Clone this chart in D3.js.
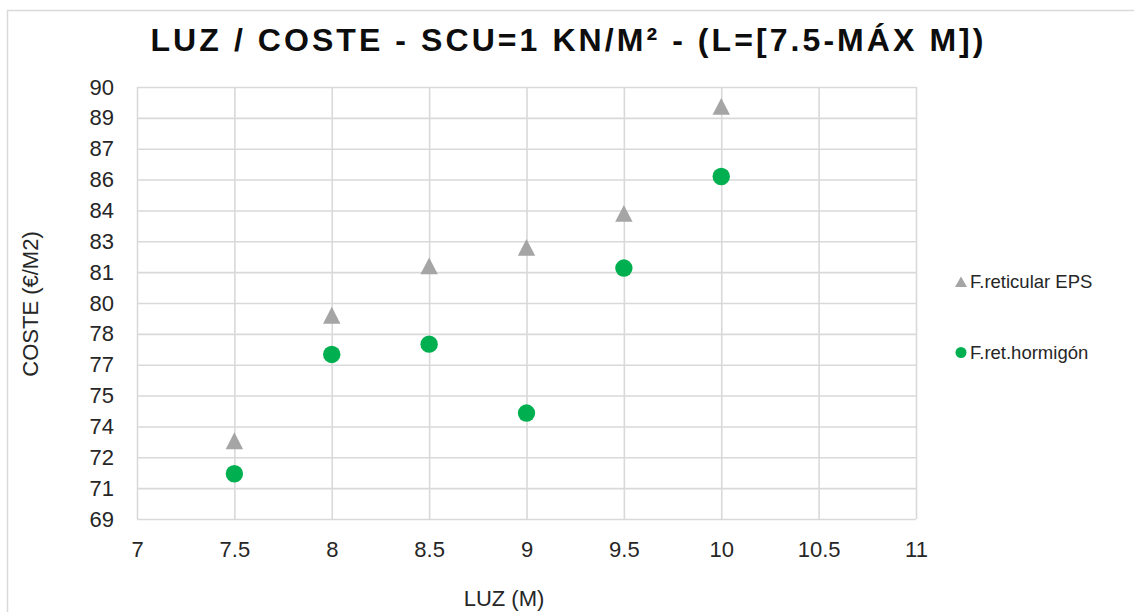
<!DOCTYPE html>
<html>
<head>
<meta charset="utf-8">
<script src="https://cdn.jsdelivr.net/npm/d3@7/dist/d3.min.js"></script>
<style>
  html, body { margin: 0; padding: 0; background: #ffffff; }
  svg { display: block; }
</style>
</head>
<body>
<svg id="chart" width="1134" height="612"></svg>
<script>
// ---- Data ----
const luz = [7.5, 8, 8.5, 9, 9.5, 10];
const costeEPS = [72.8, 78.9, 81.3, 82.2, 83.85, 89.05];
const costeHormigon = [71.2, 77.0, 77.5, 74.15, 81.2, 85.65];
const seriesNames = ["F.reticular EPS", "F.ret.hormigón"];
const xTicks = [7, 7.5, 8, 8.5, 9, 9.5, 10, 10.5, 11];
const xTickLabels = ["7", "7.5", "8", "8.5", "9", "9.5", "10", "10.5", "11"];
const yTicks = [69, 70.5, 72, 73.5, 75, 76.5, 78, 79.5, 81, 82.5, 84, 85.5, 87, 88.5, 90];
const yTickLabels = ["69", "71", "72", "74", "75", "77", "78", "80", "81", "83", "84", "86", "87", "89", "90"];
const titleText = "LUZ / COSTE - SCU=1 KN/M² - (L=[7.5-MÁX M])";
const xTitle = "LUZ (M)";
const yTitle = "COSTE (€/M2)";

// ---- Layout ----
const svg = d3.select("#chart");
const plot = { left: 137, right: 916, top: 87, bottom: 519 };
const font = "'Liberation Sans', Arial, sans-serif";
const grid = "#d9d9d9";
const textColor = "#262626";
const green = "#00b050";
const gray = "#a5a5a5";

// chart border
svg.append("rect")
  .attr("x", 7.5).attr("y", 10.5)
  .attr("width", 1140).attr("height", 620)
  .attr("fill", "#ffffff")
  .attr("stroke", grid).attr("stroke-width", 1.5);

const x = d3.scaleLinear().domain([7, 11]).range([plot.left, plot.right]);
const y = d3.scaleLinear().domain([69, 90]).range([plot.bottom, plot.top]);

// gridlines via axes
const xGrid = d3.axisBottom(x).tickValues(xTicks)
  .tickSize(-(plot.bottom - plot.top)).tickFormat("");
svg.append("g")
  .attr("transform", `translate(0,${plot.bottom})`)
  .call(xGrid)
  .call(g => g.select(".domain").remove())
  .call(g => g.selectAll("line").attr("stroke", grid).attr("stroke-width", 1.6));

const yGrid = d3.axisLeft(y).tickValues(yTicks)
  .tickSize(-(plot.right - plot.left)).tickFormat("");
svg.append("g")
  .attr("transform", `translate(${plot.left},0)`)
  .call(yGrid)
  .call(g => g.select(".domain").remove())
  .call(g => g.selectAll("line").attr("stroke", grid).attr("stroke-width", 1.6));

// tick labels
const xAxis = d3.axisBottom(x).tickValues(xTicks)
  .tickSize(0).tickPadding(22)
  .tickFormat((d, i) => xTickLabels[i]);
svg.append("g")
  .attr("transform", `translate(0,${plot.bottom})`)
  .call(xAxis)
  .call(g => g.select(".domain").remove())
  .call(g => g.selectAll("text")
    .attr("font-family", font).attr("font-size", 22)
    .attr("fill", textColor));

const yAxis = d3.axisLeft(y).tickValues(yTicks)
  .tickSize(0).tickPadding(23)
  .tickFormat((d, i) => yTickLabels[i]);
svg.append("g")
  .attr("transform", `translate(${plot.left},0)`)
  .call(yAxis)
  .call(g => g.select(".domain").remove())
  .call(g => g.selectAll("text")
    .attr("font-family", font).attr("font-size", 22)
    .attr("fill", textColor));

// title
svg.append("text")
  .attr("x", 567).attr("y", 51)
  .attr("text-anchor", "middle")
  .attr("font-family", "'Liberation Sans Narrow', 'Liberation Sans', Arial, sans-serif")
  .attr("font-weight", "bold")
  .attr("font-size", 32)
  .attr("fill", "#0d0d0d")
  .attr("textLength", 833)
  .attr("lengthAdjust", "spacing")
  .text(titleText);

// axis titles
svg.append("text")
  .attr("x", 504).attr("y", 606)
  .attr("text-anchor", "middle")
  .attr("font-family", font).attr("font-size", 22)
  .attr("fill", textColor)
  .text(xTitle);

svg.append("text")
  .attr("transform", "translate(38,304) rotate(-90)")
  .attr("text-anchor", "middle")
  .attr("font-family", font).attr("font-size", 22)
  .attr("fill", textColor)
  .text(yTitle);

// markers
svg.append("g").selectAll("path")
  .data(luz.map((l, i) => [l, costeEPS[i]]))
  .join("path")
  .attr("d", "M0,-8.5 L8.7,8.3 L-8.7,8.3 Z")
  .attr("transform", d => `translate(${x(d[0])},${y(d[1])})`)
  .attr("fill", gray);

svg.append("g").selectAll("circle")
  .data(luz.map((l, i) => [l, costeHormigon[i]]))
  .join("circle")
  .attr("cx", d => x(d[0]))
  .attr("cy", d => y(d[1]))
  .attr("r", 8.7)
  .attr("fill", green);

// legend
const legend = svg.append("g");
legend.append("path")
  .attr("d", "M0,-5.5 L6,5 L-6,5 Z")
  .attr("transform", "translate(961,282)")
  .attr("fill", gray);
legend.append("text")
  .attr("x", 970).attr("y", 282).attr("dy", "0.35em")
  .attr("font-family", font).attr("font-size", 18.5)
  .attr("fill", textColor)
  .text(seriesNames[0]);
legend.append("circle")
  .attr("cx", 961).attr("cy", 352.5).attr("r", 5.5)
  .attr("fill", green);
legend.append("text")
  .attr("x", 970).attr("y", 353).attr("dy", "0.35em")
  .attr("font-family", font).attr("font-size", 18.5)
  .attr("fill", textColor)
  .text(seriesNames[1]);
</script>
</body>
</html>
